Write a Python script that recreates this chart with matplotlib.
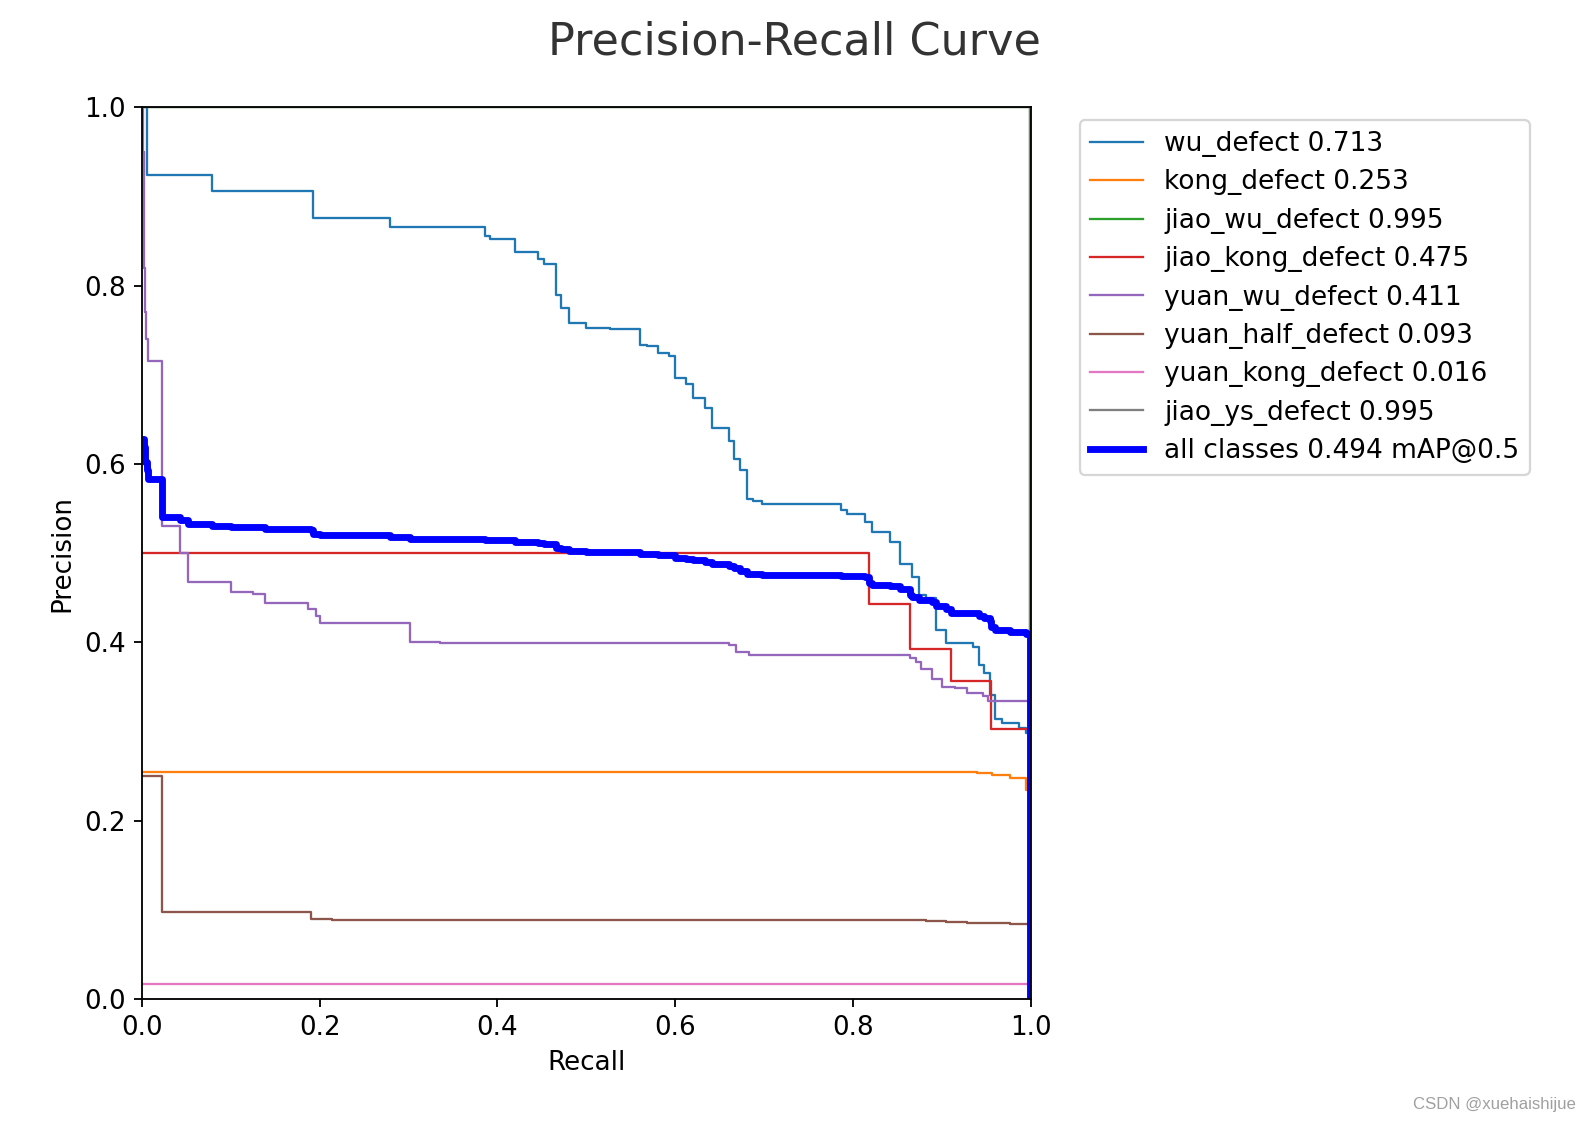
import matplotlib
matplotlib.use("Agg")
import matplotlib.pyplot as plt

# step curves: recall where a level starts, precision of that level
wu_r = [0, 0.0063, 0.0787, 0.193, 0.279, 0.386, 0.392, 0.420, 0.446, 0.452, 0.466, 0.472, 0.480,
        0.500, 0.527, 0.560, 0.568, 0.581, 0.593, 0.600, 0.612, 0.620, 0.633, 0.641, 0.660, 0.666,
        0.673, 0.681, 0.687, 0.698, 0.786, 0.793, 0.813, 0.821, 0.841, 0.853, 0.8665, 0.874, 0.8815,
        0.893, 0.905, 0.935, 0.942, 0.947, 0.954, 0.960, 0.968, 0.9865, 0.994, 0.999, 1.0]
wu_p = [1.0, 0.924, 0.9065, 0.8755, 0.866, 0.8557, 0.852, 0.838, 0.830, 0.824, 0.790, 0.775, 0.758,
        0.753, 0.751, 0.734, 0.732, 0.7245, 0.721, 0.697, 0.690, 0.6745, 0.6625, 0.640, 0.626, 0.6057,
        0.5934, 0.561, 0.559, 0.555, 0.549, 0.544, 0.5355, 0.524, 0.513, 0.488, 0.4738, 0.4533, 0.4496,
        0.414, 0.399, 0.395, 0.375, 0.366, 0.341, 0.314, 0.3094, 0.304, 0.298, 0.0, 0.0]

kong_r = [0, 0.939, 0.956, 0.977, 0.994, 0.999, 1.0]
kong_p = [0.2552, 0.2534, 0.2515, 0.248, 0.235, 0.0, 0.0]

jiao_wu_r = [0, 0.999, 1.0]
jiao_wu_p = [1.0, 0.0, 0.0]

jiao_kong_r = [0, 0.818, 0.864, 0.910, 0.955, 0.999, 1.0]
jiao_kong_p = [0.5, 0.443, 0.3927, 0.357, 0.3027, 0.0, 0.0]

yuan_wu_r = [0, 0.001, 0.002, 0.003, 0.004, 0.005, 0.0065, 0.023, 0.043, 0.052, 0.100, 0.125, 0.139,
             0.187, 0.196, 0.201, 0.302, 0.335, 0.660, 0.668, 0.683, 0.864, 0.871, 0.876, 0.889,
             0.900, 0.915, 0.928, 0.946, 0.952, 0.999, 1.0]
yuan_wu_p = [1.0, 0.95, 0.88, 0.82, 0.77, 0.74, 0.716, 0.531, 0.5, 0.4675, 0.457, 0.4544, 0.4446,
             0.437, 0.4297, 0.4222, 0.401, 0.3995, 0.397, 0.389, 0.386, 0.3823, 0.378, 0.370, 0.3587,
             0.3505, 0.349, 0.343, 0.340, 0.3344, 0.0, 0.0]

yuan_half_r = [0, 0.023, 0.19, 0.214, 0.882, 0.905, 0.928, 0.976, 0.999, 1.0]
yuan_half_p = [0.25, 0.0982, 0.0897, 0.0885, 0.0875, 0.0866, 0.0858, 0.0844, 0.0, 0.0]

yuan_kong_r = [0, 0.999, 1.0]
yuan_kong_p = [0.0172, 0.0, 0.0]

jiao_ys_r = [0, 0.999, 1.0]
jiao_ys_p = [1.0, 0.0, 0.0]

all_r = [0, 0.002, 0.004, 0.0063, 0.0065, 0.023, 0.043, 0.052, 0.0787, 0.100, 0.139, 0.187, 0.19,
         0.193, 0.201, 0.279, 0.302, 0.386, 0.420, 0.446, 0.452, 0.466, 0.472, 0.480, 0.500, 0.560,
         0.581, 0.600, 0.612, 0.620, 0.633, 0.641, 0.660, 0.666, 0.673, 0.681, 0.698, 0.786, 0.813,
         0.818, 0.821, 0.841, 0.853, 0.864, 0.8665, 0.874, 0.876, 0.889, 0.893, 0.905, 0.910, 0.942,
         0.947, 0.954, 0.955, 0.960, 0.977, 0.994, 0.999, 1.0]
all_p = [0.6278, 0.619, 0.6028, 0.5933, 0.5828, 0.5407, 0.5368, 0.5328, 0.5306, 0.5293, 0.5277, 0.5268,
         0.5257, 0.5218, 0.52, 0.5186, 0.516, 0.5145, 0.5123, 0.5113, 0.5106, 0.5063, 0.5044, 0.5023,
         0.5017, 0.4993, 0.4981, 0.4947, 0.4938, 0.4919, 0.4904, 0.4876, 0.4855, 0.483, 0.4804, 0.4764,
         0.4752, 0.4745, 0.4734, 0.4663, 0.4649, 0.4635, 0.4604, 0.453, 0.4512, 0.4481, 0.4471, 0.4451,
         0.4407, 0.4377, 0.4332, 0.4291, 0.4276, 0.4237, 0.417, 0.4134, 0.4122, 0.4092, 0.0, 0.0]

names = ["wu_defect", "kong_defect", "jiao_wu_defect", "jiao_kong_defect", "yuan_wu_defect",
         "yuan_half_defect", "yuan_kong_defect", "jiao_ys_defect"]
ap = [0.713, 0.253, 0.995, 0.475, 0.411, 0.093, 0.016, 0.995]
curves = [(wu_r, wu_p), (kong_r, kong_p), (jiao_wu_r, jiao_wu_p), (jiao_kong_r, jiao_kong_p),
          (yuan_wu_r, yuan_wu_p), (yuan_half_r, yuan_half_p), (yuan_kong_r, yuan_kong_p),
          (jiao_ys_r, jiao_ys_p)]
map50 = 0.494

DPI = 165
plt.rcParams["font.size"] = 11.4
fig = plt.figure(figsize=(1589 / DPI, 1123 / DPI), dpi=DPI)
ax = fig.add_axes([0.0892, 0.1102, 0.5596, 0.7943])

for i, (r, p) in enumerate(curves):
    ax.plot(r, p, drawstyle="steps-post", linewidth=1, color=f"C{i}",
            label=f"{names[i]} {ap[i]:.3f}")
ax.plot(all_r, all_p, drawstyle="steps-post", linewidth=3, color="blue",
        label=f"all classes {map50:.3f} mAP@0.5")

ax.set_xlabel("Recall")
ax.set_ylabel("Precision")
ax.set_xlim(0, 1)
ax.set_ylim(0, 1)
ax.legend(bbox_to_anchor=(1.04, 1), loc="upper left", fontsize=11.5, labelspacing=0.47)
fig.suptitle("Precision-Recall Curve", fontsize=19.4, color="#333333", y=0.9519, va="baseline")
fig.text(0.9918, 0.0125, "CSDN @xuehaishijue", ha="right", va="baseline", fontsize=7.3,
         family="Liberation Sans", color="#a0a0a0")

fig.savefig("out.png", dpi=DPI)
